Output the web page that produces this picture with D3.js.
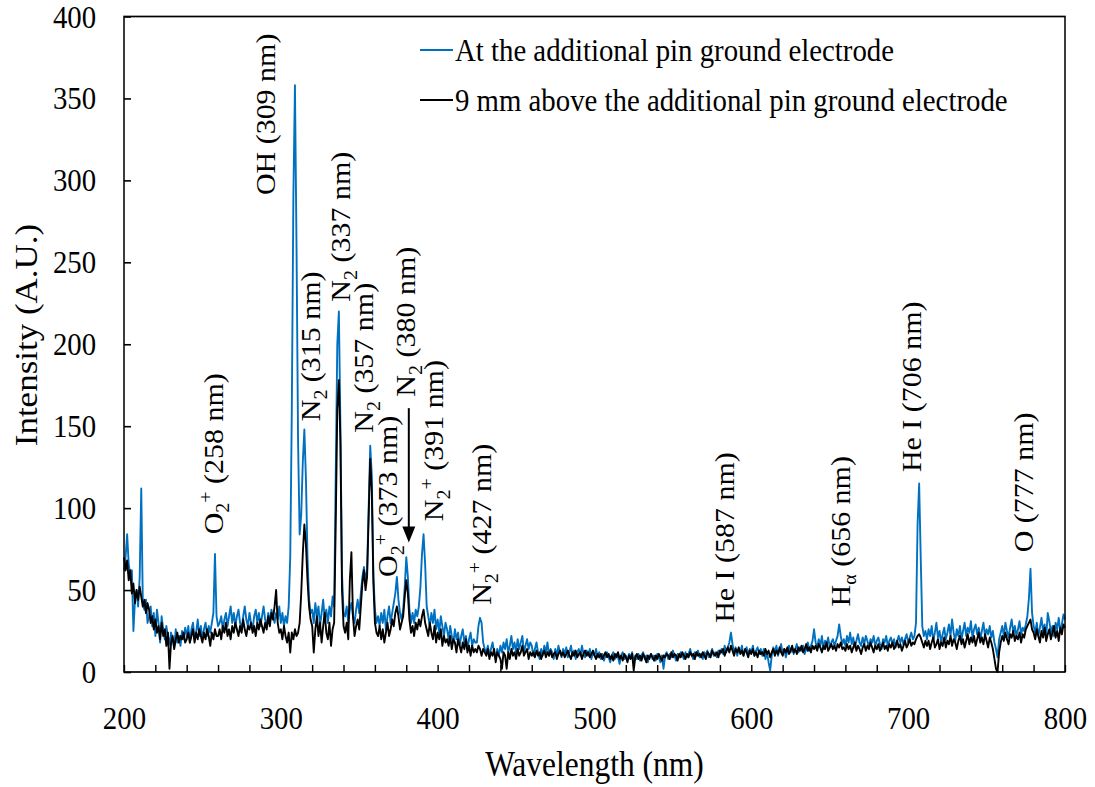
<!DOCTYPE html>
<html>
<head>
<meta charset="utf-8">
<script src="https://cdn.jsdelivr.net/npm/d3@7"></script>
<style>
  html, body { margin: 0; padding: 0; background: #fff; }
  svg { display: block; font-family: "Liberation Serif", "Times New Roman", serif; }
</style>
</head>
<body>
<script>
// ---------------- DATA ----------------
const wlStart = 200, wlStep = 1;   // nm, one value per nm from 200 to 800
const xTickValues = [200, 300, 400, 500, 600, 700, 800];
const yTickValues = [0, 50, 100, 150, 200, 250, 300, 350, 400];
const seriesNames = ["At the additional pin ground electrode", "9 mm above the additional pin ground electrode"];

// At the additional pin ground electrode (blue)
const blueIntensity = [
  62, 70, 84, 66, 58, 62, 25, 44, 50, 40,   // 200
  58, 112, 42, 38, 44, 30, 34, 40, 28, 36,  // 210
  22, 38, 30, 18, 34, 26, 20, 28, 22, 17,   // 220
  24, 20, 15, 26, 18, 22, 16, 25, 20, 27,   // 230
  22, 28, 18, 26, 30, 20, 24, 32, 22, 28,   // 240
  20, 26, 30, 22, 28, 24, 30, 36, 72, 34,   // 250
  28, 30, 34, 26, 32, 36, 28, 34, 40, 30,   // 260
  36, 28, 34, 38, 30, 26, 34, 40, 32, 28,   // 270
  36, 30, 26, 34, 38, 30, 36, 28, 34, 40,   // 280
  32, 28, 36, 30, 38, 34, 30, 36, 32, 40,   // 290
  30, 36, 28, 34, 30, 40, 70, 160, 290, 358, // 300
  260, 140, 84, 96, 128, 148, 118, 70, 44, 36, // 310
  38, 30, 42, 34, 40, 28, 36, 44, 32, 38,   // 320
  30, 40, 34, 46, 40, 120, 200, 220, 150, 60, // 330
  36, 34, 40, 30, 38, 42, 34, 30, 38, 44,   // 340
  36, 48, 58, 64, 56, 62, 100, 138, 120, 60, // 350
  38, 30, 34, 28, 36, 30, 38, 26, 34, 40,   // 360
  30, 36, 42, 48, 58, 44, 36, 32, 38, 52,   // 370
  70, 58, 38, 30, 36, 30, 38, 34, 40, 52,   // 380
  72, 84, 66, 40, 34, 28, 36, 30, 38, 26,   // 390
  32, 24, 34, 28, 22, 30, 26, 20, 28, 22,   // 400
  18, 26, 20, 24, 16, 22, 26, 18, 22, 14,   // 410
  20, 24, 16, 20, 18, 18, 28, 33, 30, 18,   // 420
  14, 12, 16, 10, 14, 18, 12, 8, 14, 10,    // 430
  16, 12, 18, 14, 20, 12, 16, 22, 14, 18,   // 440
  12, 20, 14, 18, 22, 12, 16, 20, 14, 18,   // 450
  16, 10, 14, 18, 12, 8, 14, 10, 16, 12,    // 460
  18, 10, 14, 12, 8, 14, 10, 16, 12, 9,     // 470
  14, 11, 15, 9, 12, 16, 10, 13, 8, 12,     // 480
  14, 10, 16, 11, 9, 13, 10, 14, 8, 12,     // 490
  10, 14, 9, 12, 8, 11, 7, 10, 12, 9,       // 500
  6, 10, 12, 8, 11, 9, 5, 10, 12, 8,        // 510
  10, 7, 11, 9, 12, 6, 10, 8, 11, 7,        // 520
  10, 12, 8, 10, 6, 9, 11, 8, 10, 7,        // 530
  11, 9, 6, 10, 2, 10, 12, 8, 11, 9,        // 540
  13, 10, 7, 11, 9, 12, 10, 8, 12, 9,       // 550
  11, 14, 10, 8, 12, 10, 13, 9, 11, 8,      // 560
  12, 10, 13, 9, 11, 14, 10, 12, 9, 13,     // 570
  11, 14, 11, 16, 12, 15, 18, 24, 17, 12,   // 580
  15, 10, 14, 12, 16, 10, 13, 15, 11, 14,   // 590
  12, 16, 10, 13, 15, 11, 14, 10, 14, 8,    // 600
  12, 6, 1, 10, 15, 12, 16, 10, 13, 17,     // 610
  11, 14, 9, 13, 16, 12, 15, 11, 14, 17,    // 620
  12, 15, 13, 16, 11, 14, 18, 13, 16, 19,   // 630
  26, 18, 15, 20, 16, 22, 14, 19, 17, 21,   // 640
  15, 18, 20, 16, 19, 22, 29, 22, 17, 20,   // 650
  16, 22, 18, 24, 17, 21, 15, 19, 23, 18,   // 660
  16, 21, 17, 22, 19, 15, 20, 18, 22, 16,   // 670
  19, 21, 17, 14, 20, 18, 22, 16, 19, 21,   // 680
  17, 20, 15, 19, 22, 18, 21, 17, 20, 23,   // 690
  18, 21, 24, 20, 22, 30, 90, 115, 70, 28,  // 700
  22, 25, 20, 26, 22, 28, 19, 24, 30, 21,   // 710
  25, 18, 23, 27, 20, 24, 29, 22, 32, 24,   // 720
  19, 26, 22, 28, 20, 25, 30, 22, 27, 24,   // 730
  31, 21, 26, 29, 23, 27, 20, 25, 30, 22,   // 740
  26, 23, 28, 21, 25, 18, 14, 9, 20, 24,    // 750
  28, 22, 30, 25, 21, 27, 32, 24, 28, 22,   // 760
  26, 31, 23, 27, 25, 29, 34, 45, 63, 36,   // 770
  28, 24, 30, 22, 27, 33, 25, 29, 21, 36,   // 780
  31, 24, 28, 22, 30, 26, 33, 25, 29, 35,   // 790
  32                                        // 800
];

// 9 mm above the additional pin ground electrode (black)
const blackIntensity = [
  70, 62, 68, 56, 62, 48, 54, 42, 50, 44,   // 200
  52, 46, 40, 44, 36, 42, 38, 30, 34, 26,   // 210
  32, 24, 28, 20, 30, 22, 26, 16, 24, 2,    // 220
  18, 22, 14, 20, 24, 18, 22, 20, 24, 18,   // 230
  20, 24, 18, 22, 26, 18, 24, 20, 26, 22,   // 240
  18, 24, 20, 26, 22, 16, 24, 20, 26, 22,   // 250
  22, 26, 20, 28, 24, 30, 22, 26, 20, 28,   // 260
  24, 30, 26, 22, 28, 24, 32, 26, 22, 28,   // 270
  26, 30, 24, 28, 22, 30, 26, 32, 28, 24,   // 280
  30, 26, 34, 28, 36, 32, 40, 50, 30, 24,   // 290
  26, 20, 28, 22, 18, 24, 12, 24, 20, 26,   // 300
  22, 24, 30, 48, 72, 90, 78, 56, 40, 32,   // 310
  28, 12, 26, 34, 22, 30, 18, 28, 36, 24,   // 320
  20, 30, 16, 26, 30, 90, 160, 178, 140, 50, // 330
  28, 24, 30, 20, 56, 73, 34, 22, 28, 32,   // 340
  26, 40, 54, 62, 50, 58, 95, 130, 110, 55, // 350
  30, 24, 22, 28, 20, 26, 18, 24, 30, 22,   // 360
  26, 32, 28, 36, 40, 34, 26, 30, 34, 46,   // 370
  56, 48, 32, 24, 28, 22, 30, 26, 32, 28,   // 380
  34, 38, 30, 26, 22, 30, 24, 20, 28, 18,   // 390
  24, 20, 26, 16, 22, 18, 20, 16, 22, 14,   // 400
  20, 18, 12, 20, 16, 12, 18, 14, 20, 12,   // 410
  16, 10, 16, 12, 14, 12, 16, 14, 10, 14,   // 420
  12, 10, 14, 8, 12, 10, 14, 6, 12, 10,     // 430
  8, 2, 12, 10, 2, 12, 8, 14, 10, 12,       // 440
  8, 14, 10, 12, 16, 10, 12, 14, 8, 12,     // 450
  10, 12, 9, 13, 10, 12, 8, 11, 13, 9,      // 460
  12, 10, 13, 9, 11, 12, 8, 11, 13, 10,     // 470
  12, 9, 11, 13, 10, 8, 12, 10, 13, 9,      // 480
  11, 12, 8, 11, 13, 10, 12, 9, 11, 13,     // 490
  10, 8, 11, 9, 11, 8, 10, 12, 9, 11,       // 500
  8, 10, 7, 11, 9, 12, 8, 10, 7, 11,        // 510
  9, 6, 10, 8, 11, 1, 9, 11, 8, 10,         // 520
  7, 11, 9, 6, 10, 8, 11, 9, 7, 10,         // 530
  8, 11, 9, 7, 10, 9, 11, 10, 8, 12,        // 540
  9, 11, 10, 7, 11, 9, 12, 10, 8, 11,       // 550
  9, 12, 10, 11, 8, 12, 10, 11, 9, 12,      // 560
  10, 8, 12, 11, 9, 13, 11, 10, 12, 9,      // 570
  13, 12, 14, 10, 13, 15, 12, 16, 13, 10,   // 580
  14, 12, 15, 11, 13, 10, 14, 12, 9, 13,    // 590
  11, 14, 10, 12, 9, 13, 11, 12, 10, 14,    // 600
  11, 13, 9, 12, 14, 10, 13, 11, 15, 12,    // 610
  10, 14, 12, 15, 11, 13, 16, 12, 14, 11,   // 620
  15, 13, 16, 12, 14, 17, 13, 15, 12, 16,   // 630
  14, 16, 13, 17, 15, 12, 16, 14, 18, 13,   // 640
  15, 17, 14, 16, 13, 17, 15, 18, 14, 15,   // 650
  13, 17, 14, 16, 12, 15, 18, 13, 16, 14,   // 660
  11, 15, 17, 13, 16, 14, 18, 15, 12, 16,   // 670
  14, 17, 13, 15, 18, 14, 16, 13, 17, 15,   // 680
  18, 14, 16, 19, 15, 17, 13, 16, 19, 15,   // 690
  17, 20, 16, 18, 17, 20, 22, 23, 21, 18,   // 700
  15, 19, 16, 19, 14, 18, 21, 15, 17, 20,   // 710
  14, 18, 16, 21, 15, 19, 17, 22, 16, 20,   // 720
  18, 14, 19, 22, 17, 20, 15, 19, 23, 17,   // 730
  21, 18, 22, 16, 20, 24, 18, 21, 17, 23,   // 740
  19, 15, 21, 18, 14, 8, 2, 0, 12, 18,      // 750
  22, 19, 24, 20, 17, 23, 21, 25, 19, 22,   // 760
  20, 24, 18, 23, 21, 26, 28, 30, 32, 26,   // 770
  24, 20, 26, 22, 18, 25, 21, 27, 19, 23,   // 780
  26, 20, 24, 28, 21, 25, 19, 27, 23, 29,   // 790
  27                                        // 800
];

// Peak labels: text pieces ([text, "sub"|"sup"|""])
const peakLabels = [
  [["O"], ["2", "sub"], ["+", "sup"], [" (258 nm)"]],
  [["OH (309 nm)"]],
  [["N"], ["2", "sub"], [" (315 nm)"]],
  [["N"], ["2", "sub"], [" (337 nm)"]],
  [["N"], ["2", "sub"], [" (357 nm)"]],
  [["O"], ["2", "sub"], ["+", "sup"], [" (373 nm)"]],
  [["N"], ["2", "sub"], [" (380 nm)"]],
  [["N"], ["2", "sub"], ["+", "sup"], [" (391 nm)"]],
  [["N"], ["2", "sub"], ["+", "sup"], [" (427 nm)"]],
  [["He I (587 nm)"]],
  [["H"], ["\u03B1", "sub"], [" (656 nm)"]],
  [["He I (706 nm)"]],
  [["O (777 nm)"]]
];
// where each label's text baseline starts, in data units [wavelength, intensity]
const labelAnchors = [
  [263.2, 84], [296.2, 291], [325.1, 153], [344.3, 226], [358.9, 146],
  [374.3, 58], [385.7, 168], [403.6, 92], [434.3, 41], [588.7, 30],
  [662.8, 40], [708.2, 122], [779.6, 73]
];
// arrow pointing at N2 (380 nm): [wavelength, intensity from, intensity to]
const arrowSpec = [381.6, 161, 79];

// ---------------- LAYOUT ----------------
const W = 1095, H = 787;
const SX = 0.9; // horizontal squeeze of the original figure
const plotLeft = 124 / SX, plotRight = 1065 / SX, plotTop = 16.5, plotBottom = 672;

const svg = d3.select("body").append("svg").attr("width", W).attr("height", H);
const g = svg.append("g").attr("transform", `scale(${SX},1)`);

const x = d3.scaleLinear().domain([200, 800]).range([plotLeft, plotRight]);
const y = d3.scaleLinear().domain([0, 400]).range([plotBottom, plotTop]);

// lines
const line = d3.line()
  .x((d, i) => x(wlStart + i * wlStep))
  .y(d => y(d));

g.append("path").datum(blueIntensity)
  .attr("fill", "none").attr("stroke", "#0070C0").attr("stroke-width", 2.1)
  .attr("stroke-linejoin", "round").attr("d", line);
g.append("path").datum(blackIntensity)
  .attr("fill", "none").attr("stroke", "#000").attr("stroke-width", 2.1)
  .attr("stroke-linejoin", "round").attr("d", line);

// axes
const xAxis = d3.axisBottom(x)
  .tickValues(d3.range(200, 801, 20))
  .tickSize(-7)
  .tickFormat(d => xTickValues.includes(d) ? d : "");
const gx = g.append("g").attr("transform", `translate(0,${plotBottom})`).call(xAxis);
gx.select(".domain").remove();
gx.selectAll(".tick line").attr("stroke", "#000").attr("stroke-width", 1.6);
gx.selectAll(".tick text").attr("y", 57).attr("dy", 0)
  .attr("font-size", 32).attr("font-family", "Liberation Serif").attr("fill", "#000");

const yAxis = d3.axisLeft(y).tickValues(yTickValues).tickSize(-7 / SX);
const gy = g.append("g").attr("transform", `translate(${plotLeft},0)`).call(yAxis);
gy.select(".domain").remove();
gy.selectAll(".tick line").attr("stroke", "#000").attr("stroke-width", 1.6);
gy.selectAll(".tick text").attr("x", -31).attr("dy", "0.33em")
  .attr("font-size", 32).attr("font-family", "Liberation Serif").attr("fill", "#000");

// frame
g.append("rect")
  .attr("x", x(200)).attr("y", y(400))
  .attr("width", x(800) - x(200)).attr("height", y(0) - y(400))
  .attr("fill", "none").attr("stroke", "#000").attr("stroke-width", 1.7);

// axis titles
g.append("text")
  .attr("x", (x(200) + x(800)) / 2).attr("y", 776)
  .attr("text-anchor", "middle").attr("font-size", 35).attr("fill", "#000")
  .text("Wavelength (nm)");
g.append("text")
  .attr("transform", `translate(${37 / SX},${335}) rotate(-90)`)
  .attr("text-anchor", "middle").attr("font-size", 35).attr("fill", "#000")
  .text("Intensity (A.U.)");

// legend
const legendColors = ["#0070C0", "#000"];
const legendY = [50, 100];
seriesNames.forEach((name, i) => {
  g.append("line")
    .attr("x1", 420 / SX).attr("x2", 453 / SX)
    .attr("y1", legendY[i]).attr("y2", legendY[i])
    .attr("stroke", legendColors[i]).attr("stroke-width", 2.2);
  g.append("text")
    .attr("x", 455 / SX).attr("y", legendY[i] + 11)
    .attr("font-size", 32).attr("fill", "#000")
    .text(name);
});

// peak labels
peakLabels.forEach((parts, i) => {
  const [wl, val] = labelAnchors[i];
  const t = g.append("text")
    .attr("transform", `translate(${x(wl)},${y(val)}) rotate(-90)`)
    .attr("font-size", 30).attr("fill", "#000");
  let cur = 0;
  parts.forEach(([txt, kind]) => {
    const target = kind === "sub" ? 7 : kind === "sup" ? -12 : 0;
    t.append("tspan")
      .attr("dy", target - cur)
      .attr("font-size", kind ? 20 : 30)
      .text(txt);
    cur = target;
  });
});

// arrow
const ax = x(arrowSpec[0]), ay1 = y(arrowSpec[1]), ay2 = y(arrowSpec[2]);
g.append("line")
  .attr("x1", ax).attr("x2", ax).attr("y1", ay1).attr("y2", ay2 - 12)
  .attr("stroke", "#000").attr("stroke-width", 2 / SX);
g.append("path")
  .attr("d", `M${ax - 6.5 / SX},${ay2 - 16} L${ax + 6.5 / SX},${ay2 - 16} L${ax},${ay2} Z`)
  .attr("fill", "#000");
</script>
</body>
</html>
